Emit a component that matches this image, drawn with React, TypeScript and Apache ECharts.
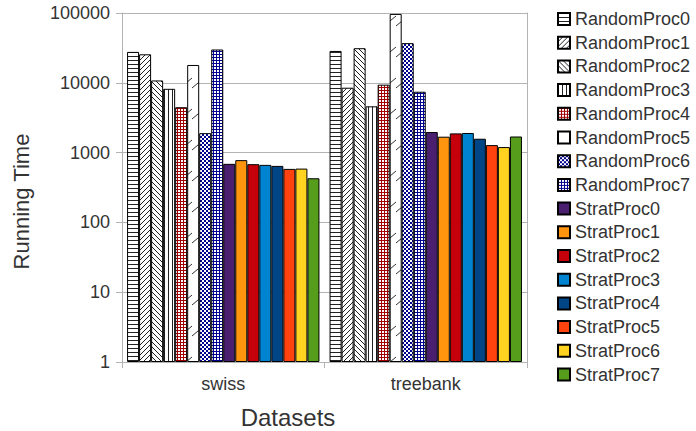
import React, { useEffect, useRef } from "react";
import * as echarts from "echarts";

const categories = ["swiss", "treebank"];
const seriesNames = [
  "RandomProc0", "RandomProc1", "RandomProc2", "RandomProc3",
  "RandomProc4", "RandomProc5", "RandomProc6", "RandomProc7",
  "StratProc0", "StratProc1", "StratProc2", "StratProc3",
  "StratProc4", "StratProc5", "StratProc6", "StratProc7",
];
// values per series: [swiss, treebank]
const random0 = [27700, 28600];
const random1 = [25600, 8500];
const random2 = [10800, 31300];
const random3 = [8200, 4600];
const random4 = [4470, 9400];
const random5 = [18000, 97000];
const random6 = [1900, 37000];
const random7 = [30000, 7450];
const strat0 = [690, 1970];
const strat1 = [780, 1690];
const strat2 = [683, 1885];
const strat3 = [667, 1910];
const strat4 = [645, 1580];
const strat5 = [584, 1280];
const strat6 = [590, 1200];
const strat7 = [429, 1700];
const allValues = [
  random0, random1, random2, random3, random4, random5, random6, random7,
  strat0, strat1, strat2, strat3, strat4, strat5, strat6, strat7,
];
const yTicks = [1, 10, 100, 1000, 10000, 100000];
const stratColors = ["#4b1f6f", "#ff950e", "#c5000b", "#0084d1", "#004586", "#ff420e", "#ffd320", "#579d1c"];

function makePattern(w: number, h: number, draw: (ctx: CanvasRenderingContext2D) => void) {
  const c = document.createElement("canvas");
  c.width = w;
  c.height = h;
  const ctx = c.getContext("2d") as CanvasRenderingContext2D;
  ctx.fillStyle = "#ffffff";
  ctx.fillRect(0, 0, w, h);
  draw(ctx);
  return { image: c, repeat: "repeat", imageWidth: w, imageHeight: h } as any;
}

function buildPatterns() {
  const horiz = makePattern(4, 4, (ctx) => {
    ctx.fillStyle = "#222";
    ctx.fillRect(0, 0, 4, 1);
  });
  const diagUp = makePattern(5, 5, (ctx) => {
    ctx.strokeStyle = "#222";
    ctx.lineWidth = 1;
    ctx.beginPath();
    ctx.moveTo(-1, 6); ctx.lineTo(6, -1);
    ctx.moveTo(-6, 6); ctx.lineTo(1, -1);
    ctx.moveTo(4, 6); ctx.lineTo(11, -1);
    ctx.stroke();
  });
  const diagDown = makePattern(5, 5, (ctx) => {
    ctx.strokeStyle = "#222";
    ctx.lineWidth = 1;
    ctx.beginPath();
    ctx.moveTo(-1, -1); ctx.lineTo(6, 6);
    ctx.moveTo(-6, -1); ctx.lineTo(1, 6);
    ctx.moveTo(4, -1); ctx.lineTo(11, 6);
    ctx.stroke();
  });
  const vert = makePattern(4, 4, (ctx) => {
    ctx.fillStyle = "#222";
    ctx.fillRect(0, 0, 1, 4);
  });
  const redGrid = makePattern(3, 3, (ctx) => {
    ctx.fillStyle = "#a00000";
    ctx.fillRect(0, 0, 3, 1);
    ctx.fillRect(0, 0, 1, 3);
  });
  const sparse = makePattern(12, 31, (ctx) => {
    ctx.strokeStyle = "#333";
    ctx.lineWidth = 1;
    ctx.beginPath();
    ctx.moveTo(0, 26); ctx.lineTo(12, 16);
    ctx.stroke();
  });
  const checker = makePattern(4, 4, (ctx) => {
    ctx.fillStyle = "#000090";
    ctx.fillRect(0, 0, 2, 2);
    ctx.fillRect(2, 2, 2, 2);
  });
  const blueGrid = makePattern(3, 3, (ctx) => {
    ctx.fillStyle = "#000090";
    ctx.fillRect(0, 0, 3, 1);
    ctx.fillRect(0, 0, 1, 3);
  });
  return [horiz, diagUp, diagDown, vert, redGrid, sparse, checker, blueGrid];
}

export default function App() {
  const ref = useRef<HTMLDivElement>(null);
  useEffect(() => {
    if (!ref.current) return;
    const chart = echarts.init(ref.current, undefined, { renderer: "svg", width: 696, height: 431 });
    const patterns = buildPatterns();
    const font = "Liberation Sans";
    const series = seriesNames.map((name, i) => ({
      name,
      type: "bar",
      data: allValues[i],
      barGap: "0%",
      barCategoryGap: "5%",
      itemStyle: {
        color: i < 8 ? patterns[i] : stratColors[i - 8],
        borderColor: "#000",
        borderWidth: 1,
      },
    }));
    chart.setOption({
      animation: false,
      textStyle: { fontFamily: font },
      grid: { left: 122, width: 405, top: 13, height: 349, outerBoundsMode: "none", containLabel: false },
      legend: {
        orient: "vertical",
        left: 552,
        top: 5,
        itemWidth: 12,
        itemHeight: 12,
        itemGap: 5.7,
        icon: "rect",
        textStyle: { fontSize: 18, color: "#333", fontFamily: font },
        data: seriesNames,
      },
      xAxis: {
        type: "category",
        data: categories,
        axisLine: { lineStyle: { color: "#b3b3b3" } },
        axisTick: { show: true, length: 6, lineStyle: { color: "#b3b3b3" } },
        axisLabel: { fontSize: 18, color: "#333", margin: 13 },
        name: "Datasets",
        nameLocation: "middle",
        nameGap: 43,
        nameTextStyle: { fontSize: 24, color: "#333", padding: [0, 73, 0, 0] },
      },
      yAxis: [
        {
          type: "log",
          logBase: 10,
          min: yTicks[0],
          max: yTicks[yTicks.length - 1],
          axisLine: { show: true, lineStyle: { color: "#b3b3b3" } },
          axisTick: { show: true, length: 6, lineStyle: { color: "#b3b3b3" } },
          axisLabel: { fontSize: 18, color: "#333", margin: 12, formatter: (v: number) => String(v) },
          splitLine: { show: true, lineStyle: { color: "#b3b3b3" } },
          minorTick: { show: false },
          name: "Running Time",
          nameLocation: "middle",
          nameRotate: 90,
          nameGap: 90,
          nameTextStyle: { fontSize: 22, color: "#333", padding: [0, 28, 0, 0] },
        },
        {
          type: "log",
          logBase: 10,
          min: yTicks[0],
          max: yTicks[yTicks.length - 1],
          position: "right",
          axisLine: { show: true, lineStyle: { color: "#b3b3b3" } },
          axisTick: { show: false },
          axisLabel: { show: false },
          splitLine: { show: false },
        },
      ],
      series,
    });
    return () => chart.dispose();
  }, []);
  return (
    <div
      ref={ref}
      style={{ position: "absolute", left: 0, top: 0, width: 696, height: 431 }}
    />
  );
}
